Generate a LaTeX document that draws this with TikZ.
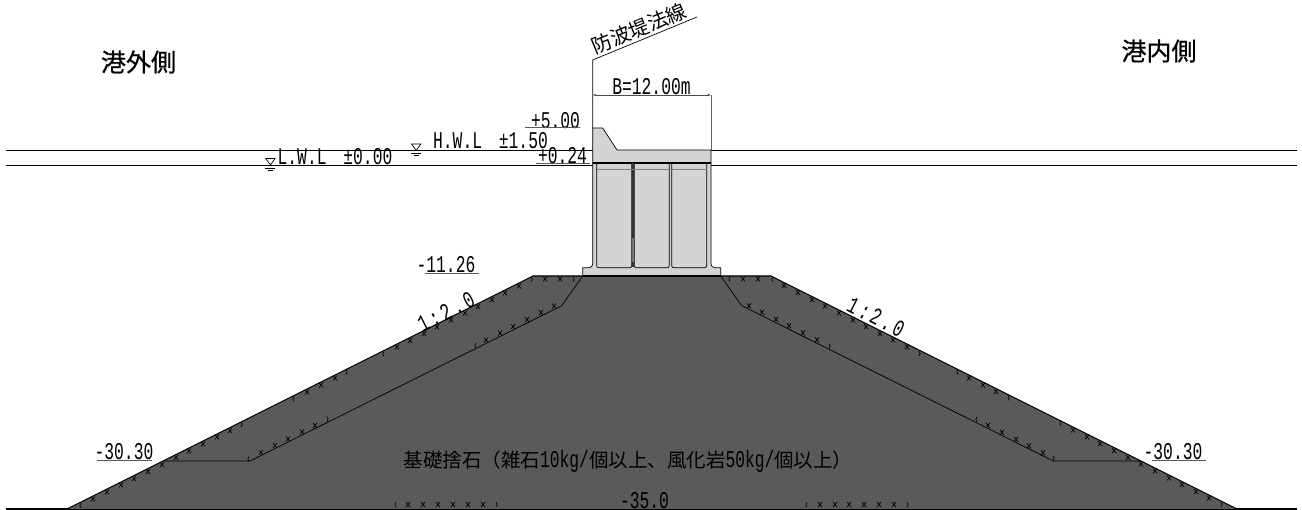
\documentclass[tikz,border=0pt]{standalone}
\usepackage{fontspec}
\usetikzlibrary{arrows.meta}
\newfontfamily\jpfont{Noto Sans CJK JP}
\newfontfamily\jphead[FakeBold=0.6]{Noto Sans CJK JP}
\newfontfamily\dimfont[FakeStretch=0.68]{Liberation Mono}
\newfontfamily\slopefont[FakeStretch=0.68,LetterSpace=12]{Liberation Mono}
\definecolor{moundgray}{HTML}{5A5A5A}
\definecolor{concgray}{HTML}{D4D4D4}
\newcommand{\latn}[1]{{\dimfont\fontsize{24}{24}\selectfont #1}}
% rows of little crosses, #2 gives y from \x
\newcommand{\xrow}[2]{\foreach \x in {#1} {\pgfmathsetmacro\yy{#2}
    \draw[xline] (\x-2,\yy-2.5) -- (\x+2,\yy+2.5) (\x+2,\yy-2.5) -- (\x-2,\yy+2.5);}}
\newcommand{\popen}[2]{\foreach \x in {#1} {\pgfmathsetmacro\yy{#2}
    \draw[xline] (\x+1,\yy-2.5) to[bend right=50] (\x+1,\yy+2.5);}}
\newcommand{\pclose}[2]{\foreach \x in {#1} {\pgfmathsetmacro\yy{#2}
    \draw[xline] (\x-1,\yy-2.5) to[bend left=50] (\x-1,\yy+2.5);}}
\newcommand{\wlsym}[2]{\draw[thin line] (#1-4.7,#2-6.5) -- (#1+4.7,#2-6.5) -- (#1,#2) -- cycle;
    \draw[thin line] (#1-10,#2) -- (#1+10,#2) (#1-5,#2+3) -- (#1+5,#2+3) (#1-2.5,#2+5) -- (#1+2.5,#2+5);}
\tikzset{
    xline/.style={line width=0.7pt, black},
    thin line/.style={line width=0.7pt, black},
    heavy line/.style={line width=1.1pt, black},
    under line/.style={line width=1pt, black!65},
    dimtext/.style={inner sep=0pt, font=\dimfont\fontsize{24}{24}\selectfont},
    jptext/.style={inner sep=0pt, font=\jphead\fontsize{25}{25}\selectfont},
}
\begin{document}
\begin{tikzpicture}[x=1pt, y=-1pt]
    \useasboundingbox (0,0) rectangle (1302,510);

    % water levels and ground
    \draw[heavy line] (6,150.5) -- (592.7,150.5) (711,150.5) -- (1297,150.5);
    \draw[line width=0.9pt] (6,165) -- (592.7,165) (711,165) -- (1297,165);
    \draw[heavy line] (6,509) -- (1297,509);

    % mound
    \coordinate (TL) at (533,276);
    \coordinate (TR) at (771,276);
    \coordinate (BL) at (67,509);
    \coordinate (BR) at (1237,509);
    \fill[moundgray] (TL) -- (TR) -- (BR) -- (BL) -- cycle;
    \draw[heavy line] (BL) -- (TL) -- (TR) -- (BR);
    \draw[thin line] (582.7,276) -- (561.7,305.7) -- (250,461) -- (163,461);
    \draw[thin line] (720.7,276) -- (741.7,305.7) -- (1053.3,461) -- (1141,461);

    % crosses on the mound
    \popen{80,293,383}{276+(533-\x)/2+3}
    \xrow{93,107,121,134,148,162,176,189,203,217,230,307,321,335,397,410,424,437,451,465,478,492,505,519}{276+(533-\x)/2+3}
    \pclose{242,347,532}{276+(533-\x)/2+3}
    \xrow{545,560}{279}
    \pclose{574}{279}
    \popen{248,475}{461-(\x-250)/2-3}
    \xrow{261,275,288,302,315,486,500,513,527,541,554}{461-(\x-250)/2-3}
    \pclose{328}{461-(\x-250)/2-3}
    \popen{729}{279}
    \xrow{743,758}{279}
    \popen{772,957,1060}{276+(\x-771)/2+3}
    \xrow{784,798,812,825,839,853,866,880,893,907,969,983,996,1073,1087,1100,1114,1128,1141,1155,1169,1182,1196,1209}{276+(\x-771)/2+3}
    \pclose{920,1009,1222}{276+(\x-771)/2+3}
    \xrow{749,762,776,789,803,817,988,1002,1016,1029,1043}{461-(1053.3-\x)/2-3}
    \pclose{830,1054}{461-(1053.3-\x)/2-3}
    \popen{976}{461-(1053.3-\x)/2-3}
    \popen{395,806}{504.5}
    \xrow{408,423,438,453,468,483,820,835,849,864,879,894}{504.5}
    \pclose{497,908}{504.5}

    % caisson and crown
    \draw[thin line, fill=concgray] (582.7,276) -- (582.7,267.7) -- (589,267.7) to[out=0,in=-90] (592.7,264)
        -- (592.7,163) -- (711,163) -- (711,264) to[out=-90,in=180] (714.7,267.7) -- (720.7,267.7) -- (720.7,276) -- cycle;
    \draw[thin line, fill=concgray] (592.7,128) -- (602.7,128) -- (617,150) -- (711,150) -- (711,163) -- (592.7,163) -- cycle;
    \draw[heavy line] (582.7,276) -- (720.7,276);
    \draw[heavy line] (592.7,163) -- (711,163);
    \foreach \cl/\cr in {596.7/631.7, 634.3/669.3, 671.7/706.7}
        \draw[thin line, rounded corners=2pt] (\cl,163) -- (\cl,267.7) -- (\cr,267.7) -- (\cr,163);
    \fill[black!80] (631.7,163) rectangle (634.3,238);
    \fill[black!55] (631.7,238) rectangle (634.3,262);
    \fill[black!80] (631.7,262) rectangle (634.3,267);
    \draw[line width=0.8pt, black!50] (596.7,169) -- (706.7,169);

    % alignment leader and width
    \coordinate (leadbot) at (592.7,128);
    \coordinate (leadtop) at (592.7,60);
    \coordinate (leadend) at (697,17);
    \draw[thin line] (leadbot) -- (leadtop) -- (leadend);
    \node[inner sep=0pt, rotate=22.5, font=\jpfont\fontsize{20}{20}\selectfont] (lawline) at (639,28.5) {防波堤法線};
    \coordinate (widthL) at (592.7,95);
    \coordinate (widthR) at (711,95);
    \draw[line width=0.8pt, black!70, {Stealth[length=4pt,width=2.5pt]}-{Stealth[length=4pt,width=2.5pt]}] (widthL) -- (widthR);
    \draw[line width=0.8pt, black!60] (widthR) -- (711,150);
    \node[dimtext] (width) at (651.5,86.5) {B=12.00m};

    % levels
    \node[dimtext] (crown) at (555.5,121) {+5.00};
    \draw[under line] (525,128) -- (580,128);
    \node[dimtext] (top) at (562.5,156) {+0.24};
    \draw[under line] (536,163.5) -- (590,163.5);
    \node[dimtext] (hwl) at (490.5,141) {H.W.L\hspace{7pt} ±1.50};
    \node[dimtext] (lwl) at (335,157) {L.W.L\hspace{7pt} ±0.00};
    \wlsym{416.2}{150.5}
    \wlsym{270.4}{165}
    \node[dimtext] (shoulder) at (446,265) {-11.26};
    \draw[under line] (425,273.3) -- (479,273.3);
    \node[dimtext] (bermL) at (124,452) {-30.30};
    \draw[under line] (97,461) -- (152,461);
    \node[dimtext] (bermR) at (1173,452) {-30.30};
    \draw[under line] (1152,461) -- (1206,461);
    \node[dimtext] (toe) at (644.5,501) {-35.0};

    % slopes
    \node[inner sep=0pt, rotate=27, font=\slopefont\fontsize{24}{24}\selectfont] (slopeL) at (446,312) {1:2.0};
    \node[inner sep=0pt, rotate=-27, font=\slopefont\fontsize{24}{24}\selectfont] (slopeR) at (876,317) {1:2.0};

    % sides and material
    \node[jptext] (seaside) at (138.5,62) {港外側};
    \node[jptext] (harbour) at (1159,51) {港内側};
    \node[inner sep=0pt, font=\jpfont\fontsize{19.5}{19.5}\selectfont] (rubble) at (628,461.7)
        {基礎捨石（雑石\latn{10kg/}個以上、風化岩\latn{50kg/}個以上）};
\end{tikzpicture}
\end{document}
